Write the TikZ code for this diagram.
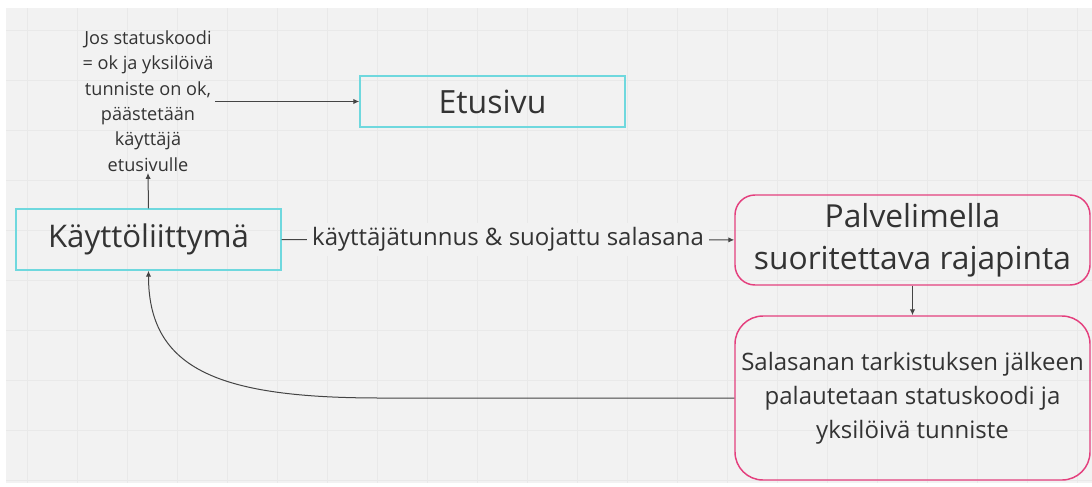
\documentclass[tikz,border=0pt]{standalone}
\usepackage{fontspec}
\setmainfont{Open Sans}
\usetikzlibrary{arrows.meta}

\definecolor{bggray}{HTML}{F2F2F2}
\definecolor{gridgray}{HTML}{E9E9E9}
\definecolor{boxcyan}{HTML}{6FD8DE}
\definecolor{boxpink}{HTML}{E4407E}
\definecolor{txtgray}{HTML}{333333}
\definecolor{arrgray}{HTML}{444444}

\begin{document}
\begin{tikzpicture}[x=0.75pt,y=-0.75pt,>={Latex[length=4.5pt,width=4pt]}]

        \useasboundingbox (0,0) rectangle (1092,486);
        \fill[white] (0,0) rectangle (1092,486);
        \fill[bggray] (6,8) rectangle (1092,483);
        \begin{scope}
          \clip (6,8) rectangle (1092,483);
          \foreach \x in {27,77,...,1077} \draw[gridgray, line width=0.6pt] (\x,8) -- (\x,483);
          \foreach \y in {30,80,...,480} \draw[gridgray, line width=0.6pt] (6,\y) -- (1092,\y);
        \end{scope}

        \begin{scope}[every node/.style={rectangle, draw=boxcyan, line width=1.1pt, text=txtgray, inner sep=0pt}]
          \node (1) at (148.5,239.5) [minimum width=265*0.75pt, minimum height=61*0.75pt, font=\fontsize{23.4}{28}\selectfont] {Käyttöliittymä};
          \node (2) at (492.5,101.5) [minimum width=265*0.75pt, minimum height=51*0.75pt, font=\fontsize{24}{28}\selectfont] {Etusivu};
        \end{scope}

        \begin{scope}[every node/.style={rectangle, draw=boxpink, line width=1.1pt, text=txtgray, inner sep=0pt, align=center}]
          \node (4) at (912.5,240) [minimum width=355*0.75pt, minimum height=90*0.75pt, rounded corners=15pt, font=\fontsize{23.8}{31.5}\selectfont] {Palvelimella\\suoritettava rajapinta};
          \node (5) at (912.5,398) [minimum width=355*0.75pt, minimum height=164*0.75pt, rounded corners=21pt, font=\fontsize{18}{25.5}\selectfont] {Salasanan tarkistuksen jälkeen\\palautetaan statuskoodi ja\\yksilöivä tunniste};
        \end{scope}

        \node (3) at (148,101) [align=center, text=txtgray, inner sep=1pt, font=\fontsize{13.6}{19}\selectfont] {Jos statuskoodi\\= ok ja yksilöivä\\tunniste on ok,\\päästetään\\käyttäjä\\etusivulle};

        \begin{scope}[every node/.style={fill=bggray, text=txtgray, inner xsep=4pt, font=\fontsize{18}{22}\selectfont}]
          \begin{scope}[every edge/.style={draw, arrgray, line width=0.75pt}]
            \path (1) edge[->] node {käyttäjätunnus \& suojattu salasana} (4);
            \path (1.north) edge[->] (3.south);
            \path (3.east |- 2.west) edge[->] (2.west);
            \path (4) edge[->] (5);
          \end{scope}
        \end{scope}

        \draw[->, arrgray, line width=0.75pt] (5.west) -- ++(-353,0) .. controls +(-160,0) and +(0,100) .. (1.south);

      \end{tikzpicture}
\end{document}
